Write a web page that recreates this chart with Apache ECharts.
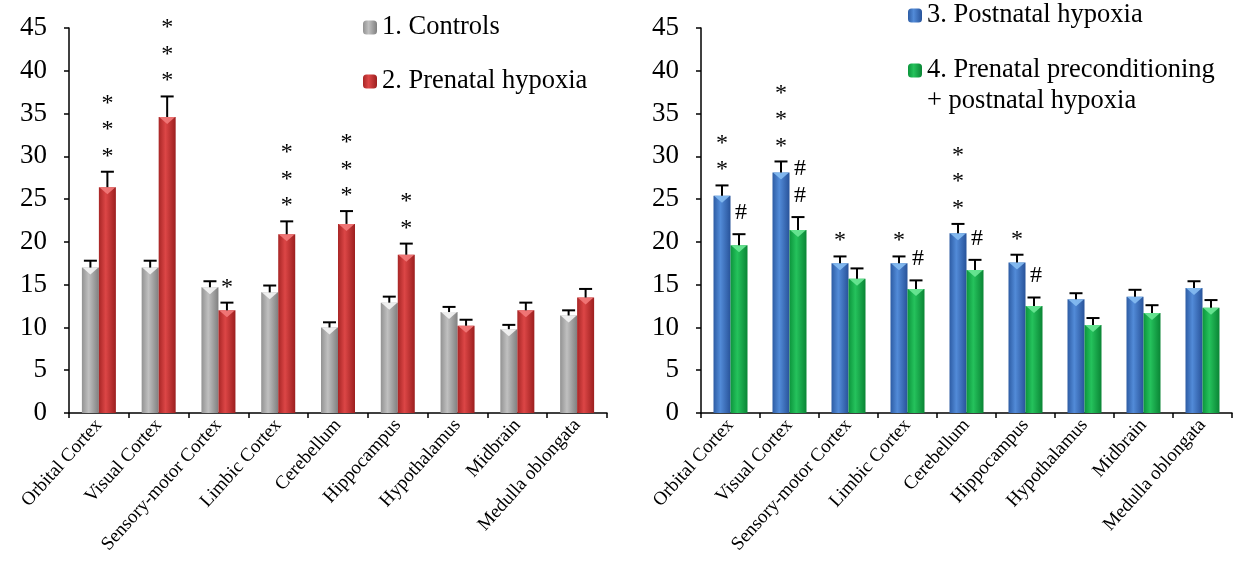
<!DOCTYPE html>
<html>
<head>
<meta charset="utf-8">
<script src="https://cdn.jsdelivr.net/npm/echarts@6/dist/echarts.min.js"></script>
<style>html,body{margin:0;padding:0;background:#fff;}#c{width:1233px;height:578px;}</style>
</head>
<body>
<div id="c"></div>
<script>
const categories = ['Orbital Cortex','Visual Cortex','Sensory-motor Cortex','Limbic Cortex','Cerebellum','Hippocampus','Hypothalamus','Midbrain','Medulla oblongata'];
const yTicks = [0,5,10,15,20,25,30,35,40,45];

const controls      = [17.0, 17.0, 14.7, 14.1, 10.0, 12.9, 11.8, 9.8, 11.4];
const controlsErr   = [0.8, 0.8, 0.7, 0.8, 0.6, 0.7, 0.6, 0.5, 0.6];
const prenatal      = [26.4, 34.6, 12.0, 20.9, 22.1, 18.5, 10.2, 12.0, 13.5];
const prenatalErr   = [1.8, 2.4, 0.9, 1.5, 1.5, 1.3, 0.7, 0.9, 1.0];
const postnatal     = [25.4, 28.1, 17.5, 17.5, 21.0, 17.6, 13.3, 13.6, 14.6];
const postnatalErr  = [1.2, 1.3, 0.8, 0.8, 1.1, 0.9, 0.7, 0.8, 0.8];
const precond       = [19.6, 21.4, 15.7, 14.5, 16.7, 12.5, 10.3, 11.7, 12.3];
const precondErr    = [1.3, 1.5, 1.2, 1.0, 1.2, 1.0, 0.8, 0.9, 0.9];

const controlsMarks  = ['','','','','','','','',''];
const prenatalMarks  = ['***','***','*','***','***','**','','',''];
const postnatalMarks = ['**','***','*','*','***','*','','',''];
const precondMarks   = ['#','##','','#','#','#','','',''];

const names = ['1. Controls','2. Prenatal hypoxia','3. Postnatal hypoxia','4. Prenatal preconditioning + postnatal hypoxia'];

const FONT = 'Liberation Serif';
const BARW = 17;

function grad(c0, c1, c2) {
  return {type:'linear', x:0, y:0, x2:1, y2:0,
    colorStops:[{offset:0,color:c0},{offset:0.4,color:c1},{offset:1,color:c2}]};
}
const styles = [
  {fill: grad('#929292','#c0c0c0','#808080'), tri:'#f4f4f4', side:-1},
  {fill: grad('#a82626','#dc4646','#9c1f1f'), tri:'#f27a7a', side:1},
  {fill: grad('#2d5ca4','#528bd8','#28539a'), tri:'#86bdf2', side:-1},
  {fill: grad('#0c953c','#25c25c','#0a8535'), tri:'#6ce896', side:1}
];

function barSeries(k, data, grid) {
  return {
    type:'bar', name:names[k], xAxisIndex:grid, yAxisIndex:grid,
    data:data, barWidth:BARW, barGap:'0%',
    itemStyle:{color:styles[k].fill},
    emphasis:{disabled:true}, z:2
  };
}

function extraSeries(k, vals, errs, marks, grid) {
  const data = vals.map((v,i)=>[i, v, errs[i]]);
  return {
    type:'custom', xAxisIndex:grid, yAxisIndex:grid, z:5, silent:true,
    data:data, clip:false,
    renderItem:function(params, api){
      const i = api.value(0), v = api.value(1), e = api.value(2);
      const base = api.coord([i, v]);
      const top = api.coord([i, v+e]);
      const x = base[0] + styles[k].side * BARW/2;
      const yb = base[1], yt = top[1];
      const children = [
        {type:'polygon', shape:{points:[[x-BARW/2+0.5,yb],[x+BARW/2-0.5,yb],[x,yb+7]]},
          style:{fill:styles[k].tri, opacity:0.9}},
        {type:'line', shape:{x1:x,y1:yb,x2:x,y2:yt}, style:{stroke:'#000',lineWidth:2}},
        {type:'line', shape:{x1:x-6.5,y1:yt,x2:x+6.5,y2:yt}, style:{stroke:'#000',lineWidth:2}}
      ];
      const m = marks[params.dataIndex];
      if (m) {
        const isHash = m[0] === '#';
        const txt = m.split('').join('\n');
        children.push({type:'text', x:x + (isHash ? 2 : 0), y:yt - (isHash ? 8 : 2),
          style:{text:txt, fill:'#000', font:'24px "'+FONT+'"', lineHeight: isHash ? 27 : 26.5,
            align:'center', verticalAlign:'bottom'}});
      }
      return {type:'group', children:children};
    }
  };
}

function xAx(grid) {
  return {
    type:'category', gridIndex:grid, data:categories,
    axisLine:{show:true, lineStyle:{color:'#000', width:1.5}},
    axisTick:{show:true, length:5, lineStyle:{color:'#000', width:1.5}},
    axisLabel:{interval:0, rotate:48, fontFamily:FONT, fontSize:19, color:'#000', margin:9},
    splitLine:{show:false}
  };
}
function yAx(grid) {
  return {
    type:'value', gridIndex:grid, min:yTicks[0], max:yTicks[yTicks.length-1], interval:5,
    axisLine:{show:true, lineStyle:{color:'#000', width:1.5}},
    axisTick:{show:true, length:5, lineStyle:{color:'#000', width:1.5}},
    axisLabel:{fontFamily:FONT, fontSize:27, color:'#000', margin:22},
    splitLine:{show:false}
  };
}

const legendText = {fontFamily:FONT, fontSize:26.5, color:'#000', padding:[0,0,0,0]};

const chart = echarts.init(document.getElementById('c'), null, {renderer:'canvas'});
chart.setOption({
  animation:false,
  backgroundColor:'#fff',
  grid:[
    {left:69, top:28, width:538, height:385},
    {left:701, top:28, width:531, height:385}
  ],
  xAxis:[xAx(0), xAx(1)],
  yAxis:[yAx(0), yAx(1)],
  legend:[
    {data:[names[0], names[1]], orient:'vertical', left:363, top:14, padding:0,
      itemWidth:14, itemHeight:14, itemGap:27, selectedMode:false, textStyle:legendText},
    {data:[names[2]], orient:'vertical', left:908, top:2, padding:0,
      itemWidth:14, itemHeight:14, selectedMode:false, textStyle:legendText},
    {data:[names[3]], orient:'vertical', left:908, top:24, padding:0,
      itemWidth:14, itemHeight:14, selectedMode:false,
      formatter:function(n){ return ' \n' + n.replace(' + ', '\n+ '); },
      textStyle:Object.assign({}, legendText, {lineHeight:31})}
  ],
  series:[
    barSeries(0, controls, 0),
    barSeries(1, prenatal, 0),
    barSeries(2, postnatal, 1),
    barSeries(3, precond, 1),
    extraSeries(0, controls, controlsErr, controlsMarks, 0),
    extraSeries(1, prenatal, prenatalErr, prenatalMarks, 0),
    extraSeries(2, postnatal, postnatalErr, postnatalMarks, 1),
    extraSeries(3, precond, precondErr, precondMarks, 1)
  ]
});
</script>
</body>
</html>
